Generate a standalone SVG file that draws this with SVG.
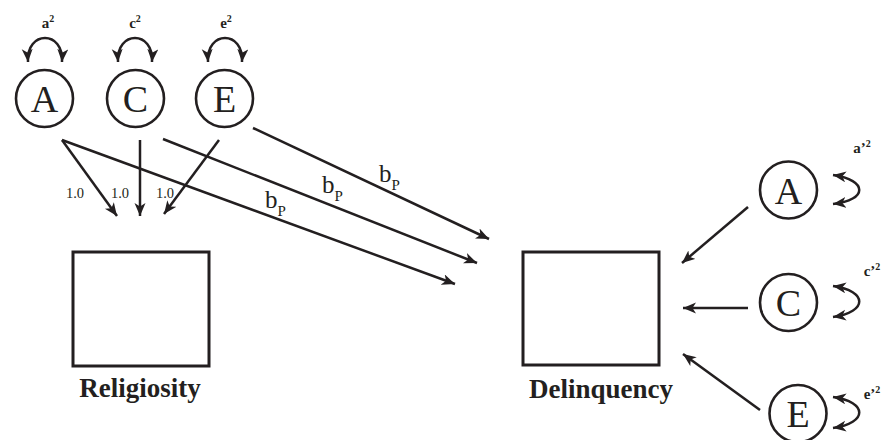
<svg xmlns="http://www.w3.org/2000/svg" width="886" height="440" viewBox="0 0 886 440">
<style>
.ln{fill:none;stroke:#231f20;stroke-width:2.5}
.nd{fill:#fff;stroke:#231f20;stroke-width:2.6}
.bx{fill:#fff;stroke:#231f20;stroke-width:3}
text{font-family:'Liberation Serif','DejaVu Serif','Times New Roman',serif;fill:#231f20}
.lt{font-size:38px;text-anchor:middle}
.nm{font-size:14.5px;text-anchor:middle}
.bp{font-size:25px}
.sb{font-size:15px}
.vl{font-size:15px;font-weight:bold;text-anchor:middle}
.sp{font-size:10px}
.tl{font-size:27px;font-weight:bold;text-anchor:middle}
</style>
<defs>
<marker id="ah" markerUnits="userSpaceOnUse" markerWidth="15" markerHeight="12" refX="13" refY="5.5" orient="auto-start-reverse" viewBox="0 0 15 12">
<path d="M0,0 L13,5.5 L0,11 L3.5,5.5 z" fill="#231f20"/>
</marker>
</defs>
<g id="connectors">
<path class="ln" d="M28,62 C26,30 64,30 62,62" marker-start="url(#ah)" marker-end="url(#ah)"/>
<path class="ln" d="M118,62 C116,30 154,30 152,62" marker-start="url(#ah)" marker-end="url(#ah)"/>
<path class="ln" d="M208,62 C206,30 244,30 242,62" marker-start="url(#ah)" marker-end="url(#ah)"/>
<path class="ln" d="M833,175 C868,180 868,200 833,204" marker-start="url(#ah)" marker-end="url(#ah)"/>
<path class="ln" d="M833,286 C868,291 868,312 833,317" marker-start="url(#ah)" marker-end="url(#ah)"/>
<path class="ln" d="M833,397 C868,402 868,423 833,428" marker-start="url(#ah)" marker-end="url(#ah)"/>
<line class="ln" x1="62" y1="140" x2="117" y2="216" marker-end="url(#ah)"/>
<line class="ln" x1="140" y1="140" x2="140" y2="216" marker-end="url(#ah)"/>
<line class="ln" x1="219" y1="140" x2="164" y2="214" marker-end="url(#ah)"/>
<line class="ln" x1="62" y1="140" x2="455" y2="284" marker-end="url(#ah)"/>
<line class="ln" x1="163" y1="139" x2="477" y2="263" marker-end="url(#ah)"/>
<line class="ln" x1="253" y1="128" x2="489" y2="239" marker-end="url(#ah)"/>
<line class="ln" x1="748" y1="207" x2="682" y2="263" marker-end="url(#ah)"/>
<line class="ln" x1="748" y1="308" x2="683" y2="308" marker-end="url(#ah)"/>
<line class="ln" x1="760" y1="410" x2="683" y2="354" marker-end="url(#ah)"/>
<text class="vl" x="48" y="28">a<tspan class="sp" dy="-6">2</tspan></text>
<text class="vl" x="135" y="28">c<tspan class="sp" dy="-6">2</tspan></text>
<text class="vl" x="226" y="28">e<tspan class="sp" dy="-6">2</tspan></text>
<text class="vl" x="862" y="153">a’<tspan class="sp" dy="-6">2</tspan></text>
<text class="vl" x="872" y="276">c’<tspan class="sp" dy="-6">2</tspan></text>
<text class="vl" x="872" y="399">e’<tspan class="sp" dy="-6">2</tspan></text>
<text class="nm" x="75" y="198">1.0</text>
<text class="nm" x="120" y="198">1.0</text>
<text class="nm" x="165" y="198">1.0</text>
<text class="bp" x="265" y="208">b<tspan class="sb" dy="8">P</tspan></text>
<text class="bp" x="322" y="193">b<tspan class="sb" dy="8">P</tspan></text>
<text class="bp" x="379" y="182">b<tspan class="sb" dy="8">P</tspan></text>
</g>
<g id="A1"><circle class="nd" cx="44.5" cy="98.5" r="28.5"/><text class="lt" x="44.5" y="112">A</text></g>
<g id="C1"><circle class="nd" cx="135.5" cy="98.5" r="28.5"/><text class="lt" x="135.5" y="112">C</text></g>
<g id="E1"><circle class="nd" cx="224.5" cy="98.5" r="28.5"/><text class="lt" x="224.5" y="112">E</text></g>
<g id="Religiosity"><rect class="bx" x="73" y="252" width="136" height="114"/><text class="tl" x="140" y="397">Religiosity</text></g>
<g id="Delinquency"><rect class="bx" x="523" y="252" width="136" height="113"/><text class="tl" x="601" y="398">Delinquency</text></g>
<g id="A2"><circle class="nd" cx="788.5" cy="190" r="28.5"/><text class="lt" x="788.5" y="203.5">A</text></g>
<g id="C2"><circle class="nd" cx="788.5" cy="302.5" r="28.5"/><text class="lt" x="788.5" y="316">C</text></g>
<g id="E2"><circle class="nd" cx="798" cy="413.5" r="28.5"/><text class="lt" x="798" y="427">E</text></g>
</svg>
